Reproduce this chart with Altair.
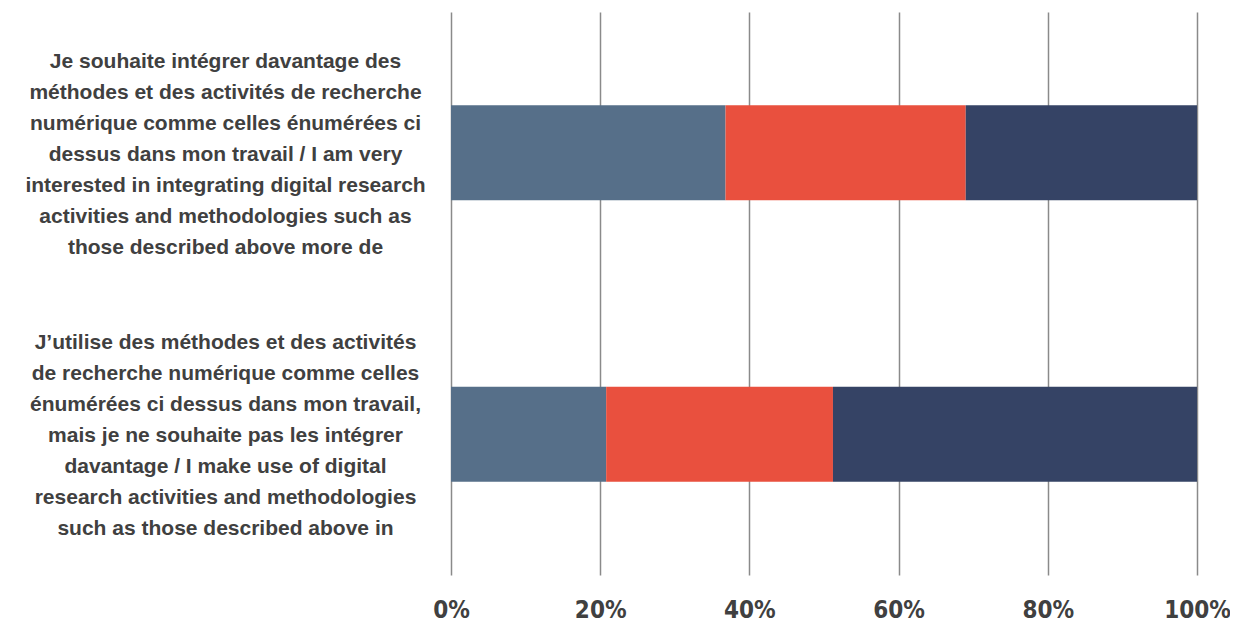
import altair as alt
import pandas as pd

categories = [
    "Je souhaite intégrer davantage des|méthodes et des activités de recherche|numérique comme celles énumérées ci|dessus dans mon travail / I am very|interested in integrating digital research|activities and methodologies such as|those described above more de",
    "J’utilise des méthodes et des activités|de recherche numérique comme celles|énumérées ci dessus dans mon travail,|mais je ne souhaite pas les intégrer|davantage / I make use of digital|research activities and methodologies|such as those described above in",
]
series = ["Série 1", "Série 2", "Série 3"]
values_s1 = [36.8, 20.8]
values_s2 = [32.2, 30.4]
values_s3 = [31.0, 48.8]
colors = ["#566F89", "#E9503E", "#354365"]
x_ticks = [0, 0.2, 0.4, 0.6, 0.8, 1.0]

rows = []
for i, cat in enumerate(categories):
    for k, (s, vals) in enumerate(zip(series, [values_s1, values_s2, values_s3])):
        rows.append({"category": cat, "series": s, "value": vals[i], "order": k})
df = pd.DataFrame(rows)

chart = alt.Chart(df).mark_bar(size=95).encode(
    x=alt.X(
        "value:Q",
        stack="normalize",
        scale=alt.Scale(domain=[0, 1], nice=False),
        axis=alt.Axis(
            format=".0%",
            values=x_ticks,
            grid=True,
            gridColor="#8a8a8a",
            gridWidth=1.5,
            domain=False,
            ticks=False,
            labelFlush=False,
            labelFont="Liberation Sans Narrow, DejaVu Sans Condensed, sans-serif",
            labelFontWeight="bold",
            labelFontSize=24,
            labelColor="#404040",
            labelPadding=23,
            title=None,
        ),
    ),
    y=alt.Y(
        "category:N",
        sort=categories,
        axis=alt.Axis(
            title=None,
            labelExpr="split(datum.label, '|')",
            labelAlign="center",
            labelBaseline="middle",
            labelPadding=226,
            labelOffset=-91,
            labelFontSize=21,
            labelFontWeight="bold",
            labelFont="Liberation Sans",
            labelColor="#404040",
            labelLineHeight=31,
            labelLimit=0,
            ticks=False,
            domain=False,
            grid=False,
        ),
    ),
    color=alt.Color("series:N", scale=alt.Scale(domain=series, range=colors), legend=None),
    order=alt.Order("order:Q"),
).properties(
    width=746,
    height=563,
    autosize=alt.AutoSizeParams(type="none"),
    padding={"left": 443, "top": 4, "right": 33, "bottom": 47},
).configure_view(stroke=None)

chart.save("out.html", embed_options={"renderer": "svg", "actions": False})
